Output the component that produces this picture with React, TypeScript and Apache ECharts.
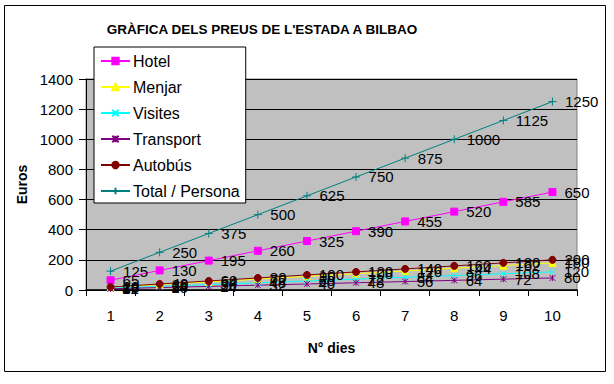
import React, { useEffect, useRef } from "react";
import * as echarts from "echarts";

const days = ["1", "2", "3", "4", "5", "6", "7", "8", "9", "10"];
const hotel = [65, 130, 195, 260, 325, 390, 455, 520, 585, 650];
const menjar = [18, 36, 54, 72, 90, 108, 126, 144, 162, 180];
const visites = [12, 24, 36, 48, 60, 72, 84, 96, 108, 120];
const transport = [8, 16, 24, 32, 40, 48, 56, 64, 72, 80];
const autobus = [20, 40, 60, 80, 100, 120, 140, 160, 180, 200];
const total = [125, 250, 375, 500, 625, 750, 875, 1000, 1125, 1250];

const FONT = "'Liberation Sans Narrow', 'Arial Narrow', 'Liberation Sans', Arial, sans-serif";
const BOLD = "'Liberation Sans', Arial, sans-serif";

const X_PATH = "path://M0,0L10,10M10,0L0,10";
const AST_PATH = "path://M0,0L10,10M10,0L0,10M5,0L5,10";
const PLUS_PATH = "path://M0,5L10,5M5,0L5,10";

function mk(name: string, data: number[], color: string, symbol: string, size: number) {
  return {
    name,
    type: "line",
    data,
    symbol,
    symbolSize: size,
    symbolKeepAspect: true,
    lineStyle: { color, width: 1 },
    itemStyle: { color, borderColor: color, borderWidth: 1 },
    label: {
      show: true,
      position: "right",
      distance: 8,
      color: "#000",
      fontFamily: FONT,
      fontSize: 15,
    },
    emphasis: { disabled: true },
  };
}

export default function App() {
  const ref = useRef<HTMLDivElement>(null);
  useEffect(() => {
    if (!ref.current) return;
    const chart = echarts.init(ref.current, null, { renderer: "svg" });
    chart.setOption({
      animation: false,
      backgroundColor: "#fff",
      graphic: [
        {
          type: "rect",
          shape: { x: 4.5, y: 5.5, width: 601, height: 366 },
          style: { fill: "none", stroke: "#000", lineWidth: 1 },
          z: -1,
        },
        {
          type: "text",
          x: 262,
          y: 29,
          style: {
            text: "GRÀFICA DELS PREUS DE L'ESTADA A BILBAO",
            align: "center",
            verticalAlign: "middle",
            fontFamily: BOLD,
            fontSize: 13.5,
            fontWeight: "bold",
            fill: "#000",
          },
        },
      ],
      legend: {
        orient: "vertical",
        left: 94,
        top: 47,
        padding: [6, 6, 4, 6],
        backgroundColor: "#fff",
        borderColor: "#000",
        borderWidth: 1,
        borderRadius: 0,
        itemWidth: 29,
        itemHeight: 8,
        itemGap: 10,
        textStyle: { fontFamily: FONT, fontSize: 16, color: "#000", padding: [0, 0, 0, -2] },
        data: ["Hotel", "Menjar", "Visites", "Transport", "Autobús", "Total / Persona"],
      },
      grid: {
        left: 86,
        top: 79,
        width: 491,
        height: 211,
        show: true,
        backgroundColor: "#C0C0C0",
        borderColor: "#808080",
        borderWidth: 1,
      },
      xAxis: {
        type: "category",
        data: days,
        boundaryGap: true,
        name: "N° dies",
        nameLocation: "middle",
        nameGap: 51,
        nameTextStyle: { fontFamily: BOLD, fontSize: 14, fontWeight: "bold", color: "#000" },
        axisLine: { lineStyle: { color: "#000", width: 1.5 } },
        axisTick: { show: true, alignWithLabel: false, length: 6, lineStyle: { color: "#000" } },
        axisLabel: { fontFamily: FONT, fontSize: 15, color: "#000", margin: 18 },
        splitLine: { show: false },
      },
      yAxis: {
        type: "value",
        min: 0,
        max: 1400,
        interval: 200,
        name: "Euros",
        nameLocation: "middle",
        nameGap: 46,
        nameRotate: 90,
        nameTextStyle: { fontFamily: BOLD, fontSize: 14, fontWeight: "bold", color: "#000" },
        axisLine: { show: true, lineStyle: { color: "#000", width: 1 } },
        axisTick: { show: true, length: 7, lineStyle: { color: "#000" } },
        axisLabel: {
          fontFamily: FONT,
          fontSize: 15,
          color: "#000",
          margin: 13,
          formatter: (v: number) => String(v),
        },
        splitLine: { show: true, lineStyle: { color: "#000", width: 1.2 } },
      },
      series: [
        mk("Hotel", hotel, "#FF00FF", "rect", 7),
        mk("Menjar", menjar, "#FFFF00", "triangle", 7),
        mk("Visites", visites, "#00FFFF", X_PATH, 6),
        mk("Transport", transport, "#800080", AST_PATH, 6),
        mk("Autobús", autobus, "#800000", "circle", 7),
        mk("Total / Persona", total, "#008080", PLUS_PATH, 8),
      ],
    });
    return () => chart.dispose();
  }, []);
  return (
    <div
      ref={ref}
      style={{ position: "fixed", left: 0, top: 0, width: 614, height: 384 }}
    />
  );
}
